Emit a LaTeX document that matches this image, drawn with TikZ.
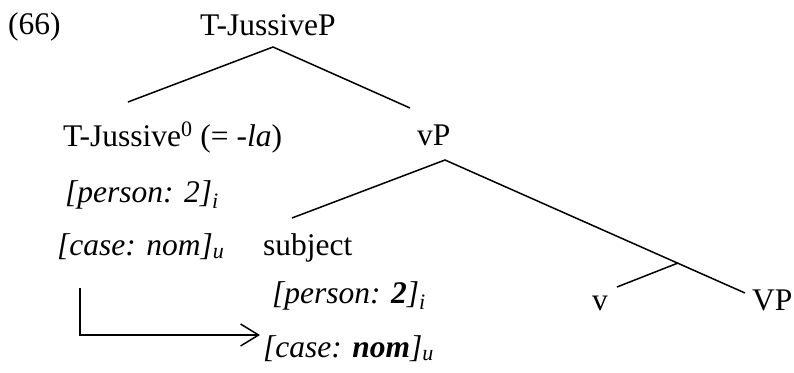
\documentclass[tikz,border=0pt]{standalone}
\usepackage{fontspec}
\setmainfont{Liberation Serif}
\usetikzlibrary{arrows.meta}
\begin{document}
\begin{tikzpicture}[x=1pt,y=-1pt,
  lbl/.style={anchor=base west,inner sep=0pt,font=\fontsize{31.5}{38}\selectfont},
  br/.style={line width=1.5pt},
  arr/.style={line width=1.5pt,-{Straight Barb[length=18pt,width=22pt,line width=1.5pt]}}]
\useasboundingbox (0,0) rectangle (794,372);
% labels
\node[lbl] (ex) at (8,34) {(66)};
\node[lbl] (tp) at (200,35) {T-JussiveP};
\node[lbl] (tj) at (63,146) {T-Jussive\textsuperscript{0} (= -\textit{la})};
\node[lbl] (vp) at (417,145) {vP};
\node[lbl] (p1) at (65,202) {\textit{[person: 2]}\textsubscript{\textit{i}}};
\node[lbl] (c1) at (57,255) {\textit{[case: nom]}\textsubscript{\textit{u}}};
\node[lbl] (subj) at (263,255) {subject};
\node[lbl] (p2) at (272,303) {\textit{[person: \textbf{2}]}\textsubscript{\textit{i}}};
\node[lbl] (c2) at (263,357) {\textit{[case: \textbf{nom}]}\textsubscript{\textit{u}}};
\node[lbl] (v) at (592,310) {v};
\node[lbl] (VP) at (752,310) {VP};
% branch points
\coordinate (tpA) at (273,47);
\coordinate (tjT) at (128,102);
\coordinate (vpT) at (410,108);
\coordinate (vpA) at (445,160);
\coordinate (subjT) at (292,218);
\coordinate (vbar) at (678,263);
\coordinate (vT) at (617,287);
\coordinate (VPT) at (745,293);
\coordinate (arS) at (80,288);
\coordinate (arC) at (80,335);
\coordinate (arE) at (260,335);
% branches
\draw[br] (tjT) -- (tpA) -- (vpT);
\draw[br] (subjT) -- (vpA) -- (VPT);
\draw[br] (vT) -- (vbar);
\draw[arr] (arS) -- (arC) -- (arE);
\end{tikzpicture}
\end{document}
